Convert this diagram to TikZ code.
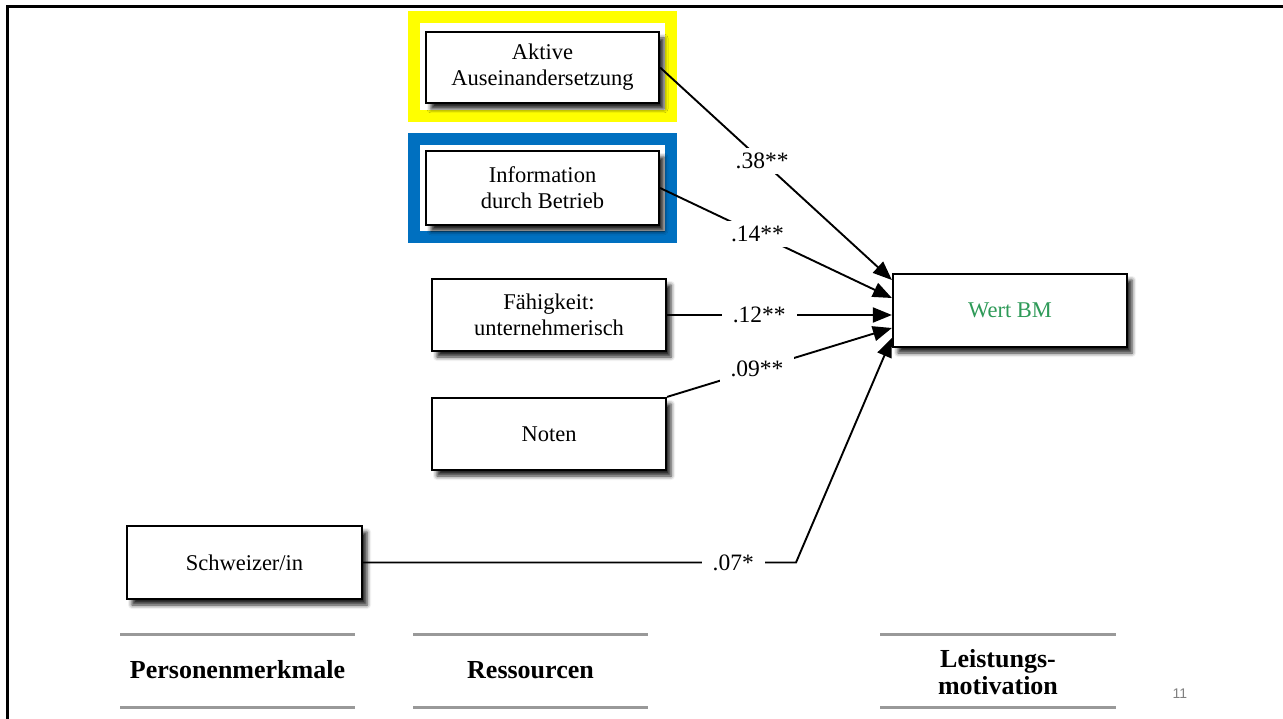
\documentclass[tikz,border=0pt]{standalone}
\usepackage{fontspec}
\setmainfont{Liberation Serif}
\newfontfamily\pagefont{Liberation Sans}
\usetikzlibrary{arrows.meta,calc,positioning,shadows.blur}
\definecolor{markyellow}{RGB}{255,255,0}
\definecolor{markblue}{RGB}{0,112,192}
\definecolor{wertgreen}{RGB}{46,154,88}
\tikzset{
  box/.style={draw,line width=2.2pt,fill=white,align=center,inner sep=2pt,
    font=\fontsize{22.5}{26}\selectfont,
    blur shadow={shadow xshift=5pt,shadow yshift=-6pt,shadow blur radius=4pt,shadow opacity=85}},
  conn/.style={line width=1.9pt,-{Triangle[length=19pt,width=15pt]}},
  coef/.style={fill=white,inner xsep=11pt,inner ysep=5pt,font=\fontsize{23.5}{26}\selectfont},
  cat/.style={align=center,font=\fontsize{26}{27}\selectfont\bfseries},
  rule/.style={line width=3pt,gray!80}
}

\begin{document}
\begin{tikzpicture}[x=1pt,y=-1pt]
    \useasboundingbox (0,0) rectangle (1283,719);
    % slide frame
    \draw[line width=3pt] (7,719) -- (7,7) -- (1283,7);
    % highlight frames
    \draw[markyellow,line width=12pt] (414,17) rectangle (671,116);
    \draw[markblue,line width=12pt] (414,139) rectangle (671,237);
    % predictors
    \node[box,minimum width=233pt,minimum height=71pt] (akt) at (542.5,67.5) {Aktive\\Auseinandersetzung};
    \node[box,minimum width=233pt,minimum height=74pt] (inf) at (542.5,188) {Information\\durch Betrieb};
    \node[box,minimum width=234pt,minimum height=72pt] (faeh) at (549,315) {F\"ahigkeit:\\unternehmerisch};
    \node[box,minimum width=234pt,minimum height=72pt] (noten) at (549,434) {Noten};
    \node[box,minimum width=235pt,minimum height=73pt] (schw) at (244.5,562.5) {Schweizer/in};
    % outcome
    \node[box,minimum width=234pt,minimum height=73pt,text=wertgreen] (wert) at (1010,310.5) {Wert BM};
    \coordinate (t1) at ([yshift=30.5pt]wert.west);
    \coordinate (t2) at ([yshift=12.5pt]wert.west);
    \coordinate (t3) at ([yshift=-4.5pt]wert.west);
    \coordinate (t4) at ([yshift=-17.5pt]wert.west);
    \coordinate (t5) at ([yshift=-27.5pt]wert.west);
    \coordinate (knick) at (796,562.5);
    % paths
    \draw[conn] (akt.east) -- node[coef,pos=0.44]{.38**} (t1);
    \draw[conn] (inf.east) -- node[coef,pos=0.42]{.14**} (t2);
    \draw[conn] (faeh.east) -- node[coef,pos=0.41]{.12**} (t3);
    \draw[conn] (noten.north east) -- node[coef,pos=0.40]{.09**} (t4);
    \draw[conn] (schw.east) -- node[coef,pos=0.855]{.07*} (knick) -- (t5);
    % categories
    \foreach \xa/\xb in {120/355,413/648,880/1116}{
      \draw[rule] (\xa,634) -- (\xb,634);
      \draw[rule] (\xa,707) -- (\xb,707);
    }
    \node[cat] (pers) at (237.5,670) {Personenmerkmale};
    \node[cat] (res) at (530.5,670) {Ressourcen};
    \node[cat] (lm) at (998,672) {Leistungs-\\motivation};
    \node[font=\pagefont\fontsize{14}{16}\selectfont,text=gray] (seite) at (1180,694) {11};
\end{tikzpicture}
\end{document}
